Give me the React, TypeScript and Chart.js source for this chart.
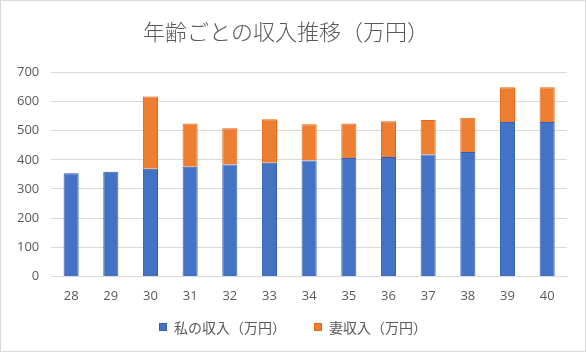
import React, { useEffect, useRef } from "react";
import { Chart, registerables } from "chart.js";

Chart.register(...registerables);

const ages = ["28", "29", "30", "31", "32", "33", "34", "35", "36", "37", "38", "39", "40"];
const myIncome = [354, 359, 369, 376, 384, 390, 398, 406, 410, 418, 427, 530, 530];
const wifeIncome = [null, null, 248, 149, 124, 149, 124, 119, 122, 119, 117, 119, 119];
const seriesNames = ["私の収入（万円）", "妻収入（万円）"];
const titleText = "年齢ごとの収入推移（万円）";

const legendPlugin = {
  id: "customLegend",
  afterDraw(chart: any) {
    const ctx = chart.ctx;
    const fontSize = 14;
    const box = 8;
    const gap = 7;
    const itemGap = 28;
    ctx.save();
    ctx.font = `${fontSize}px 'Noto Sans CJK JP', sans-serif`;
    const items = chart.data.datasets.map((ds: any) => ({
      label: ds.label,
      color: ds.backgroundColor,
      border: ds.borderColor,
      w: box + gap + ctx.measureText(ds.label).width,
    }));
    const total = items.reduce((s: number, it: any) => s + it.w, 0) + itemGap * (items.length - 1);
    let x = chart.width / 2 - total / 2;
    const y = 326;
    ctx.textBaseline = "middle";
    ctx.textAlign = "left";
    for (const it of items) {
      ctx.fillStyle = it.color;
      ctx.fillRect(x, y - box / 2, box, box);
      ctx.strokeStyle = it.border;
      ctx.lineWidth = 1;
      ctx.strokeRect(x + 0.5, y - box / 2 + 0.5, box - 1, box - 1);
      ctx.fillStyle = "#595959";
      ctx.fillText(it.label, x + box + gap, y + 1);
      x += it.w + itemGap;
    }
    ctx.restore();
  },
};

export default function App() {
  const ref = useRef<HTMLCanvasElement>(null);
  useEffect(() => {
    document.body.style.margin = "0";
    const ctx = ref.current!;
    const font = "'Open Sans', 'Noto Sans CJK JP', sans-serif";
    const chart = new Chart(ctx, {
      type: "bar",
      data: {
        labels: ages,
        datasets: [
          {
            label: seriesNames[0],
            data: myIncome,
            backgroundColor: "#4472C4",
            borderColor: "#2F5FB8",
            borderWidth: 1,
            barPercentage: 0.38,
            categoryPercentage: 1,
          },
          {
            label: seriesNames[1],
            data: wifeIncome as any,
            backgroundColor: "#ED7D31",
            borderColor: "#E8670F",
            borderWidth: 1,
            barPercentage: 0.38,
            categoryPercentage: 1,
          },
        ],
      },
      plugins: [legendPlugin],
      options: {
        animation: false,
        responsive: false,
        layout: { padding: { left: 4, right: 18, top: 13, bottom: 35 } },
        plugins: {
          title: {
            display: true,
            text: titleText,
            color: "#595959",
            font: { family: "'Noto Sans CJK JP', sans-serif", size: 22, weight: "300" as any },
            padding: { top: 4, bottom: 28 },
          },
          legend: { display: false },
          tooltip: { enabled: false },
        },
        scales: {
          x: {
            stacked: true,
            grid: { display: false, drawTicks: false },
            border: { color: "#D9D9D9" },
            ticks: { color: "#595959", font: { family: font, size: 13 }, padding: 12 },
          },
          y: {
            stacked: true,
            min: 0,
            max: 700,
            ticks: { stepSize: 100, color: "#595959", font: { family: font, size: 13 }, padding: 12 },
            grid: { color: "#D9D9D9", drawTicks: false },
            border: { display: false },
          },
        },
      },
    });
    return () => chart.destroy();
  }, []);
  return (
    <div style={{ width: 586, height: 352, boxSizing: "border-box", border: "1px solid #D9D9D9", background: "#fff" }}>
      <canvas ref={ref} width={584} height={350} />
    </div>
  );
}
